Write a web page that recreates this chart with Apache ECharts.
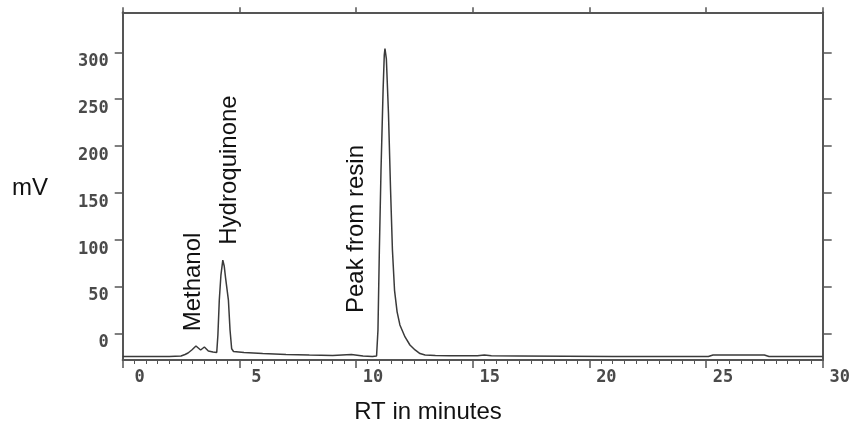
<!DOCTYPE html>
<html>
<head>
<meta charset="utf-8">
<script src="https://cdn.jsdelivr.net/npm/echarts@6/dist/echarts.min.js"></script>
<style>html,body{margin:0;padding:0;background:#fff}#c{width:853px;height:430px}</style>
</head>
<body>
<div id="c"></div>
<script>
var timeMin = [0, 1, 2, 2.5, 2.67, 2.80, 2.96, 3.14, 3.34, 3.50, 3.67, 3.87, 4.03, 4.08, 4.14, 4.21, 4.29, 4.35, 4.41, 4.53, 4.60, 4.67, 4.75, 5.2, 6, 7, 8, 9, 9.8, 10.3, 10.7, 10.88, 10.94, 11.0, 11.07, 11.16, 11.21, 11.24, 11.30, 11.39, 11.48, 11.56, 11.65, 11.76, 11.88, 12.1, 12.31, 12.53, 12.74, 12.96, 13.4, 14, 15.2, 15.5, 15.8, 17, 19, 21, 23, 25.1, 25.3, 27.5, 27.7, 30];
var signalMv = [-24.7, -24.7, -24.6, -24.1, -22.5, -20.9, -17.7, -13.5, -17.7, -14.5, -18.8, -19.9, -20.4, -1.7, 35.6, 62.3, 78.3, 72, 59, 35.6, 3.6, -16.4, -19.3, -20.4, -21.5, -22.5, -23.1, -23.6, -22.5, -24.1, -24.7, -24.1, 3.6, 89, 174, 260, 297, 304, 293, 235, 153, 89, 46, 23, 9, -3.8, -12.4, -17.7, -21.5, -23.1, -23.6, -23.8, -23.8, -23.1, -23.8, -24.1, -24.4, -24.6, -24.7, -24.7, -23.1, -23.1, -24.7, -24.7];
var yTicks = [0, 50, 100, 150, 200, 250, 300];
var xTicks = [0, 5, 10, 15, 20, 25, 30];
var peakLabels = ['Methanol', 'Hydroquinone', 'Peak from resin'];

var chart = echarts.init(document.getElementById('c'));
var axisCol = '#555';
var labelFont = {fontFamily: 'DejaVu Sans Mono', fontWeight: 'bold', fontSize: 17, color: '#4a4a4a'};
var data = timeMin.map(function (t, i) { return [t, signalMv[i]]; });

chart.setOption({
  backgroundColor: '#fff',
  animation: false,
  grid: {left: 122.7, right: 30.3, top: 12.3, bottom: 70},
  xAxis: [{
    type: 'value', position: 'bottom', min: 0, max: 30, interval: 5,
    axisLine: {show: true, onZero: false, lineStyle: {color: axisCol, width: 2}},
    axisTick: {show: true, length: 8, lineStyle: {color: axisCol, width: 1.5}},
    minorTick: {show: true, splitNumber: 10, length: 4, lineStyle: {color: axisCol, width: 1}},
    splitLine: {show: false}, minorSplitLine: {show: false},
    axisLabel: Object.assign({margin: 9, padding: [0, 0, 0, 34]}, labelFont)
  }, {
    type: 'value', position: 'top', min: 0, max: 30, interval: 5,
    axisLine: {show: true, onZero: false, lineStyle: {color: axisCol, width: 2}},
    axisTick: {show: true, length: 5, lineStyle: {color: axisCol, width: 1.5}},
    splitLine: {show: false},
    axisLabel: {show: false}
  }],
  yAxis: [{
    type: 'value', position: 'left', min: -28.4, max: 342.8,
    axisLine: {show: true, onZero: false, lineStyle: {color: axisCol, width: 2}},
    axisTick: {show: true, length: 8, customValues: yTicks, lineStyle: {color: axisCol, width: 1.5}},
    splitLine: {show: false},
    axisLabel: Object.assign({margin: 14, customValues: yTicks, verticalAlign: 'top', padding: [1, 0, 0, 0]}, labelFont)
  }, {
    type: 'value', position: 'right', min: -28.4, max: 342.8,
    axisLine: {show: true, onZero: false, lineStyle: {color: axisCol, width: 2}},
    axisTick: {show: true, length: 9, customValues: yTicks, lineStyle: {color: axisCol, width: 1.5}},
    splitLine: {show: false},
    axisLabel: {show: false}
  }],
  series: [{
    type: 'line', data: data, xAxisIndex: 0, yAxisIndex: 0,
    showSymbol: false, smooth: false,
    lineStyle: {color: '#3a3a3a', width: 1.5}
  }],
  graphic: [
    {type: 'text', x: 30, y: 188, style: {text: 'mV', font: '24px "Liberation Sans"', fill: '#111', align: 'center', verticalAlign: 'middle'}},
    {type: 'text', x: 428, y: 412, style: {text: 'RT in minutes', font: '24px "Liberation Sans"', fill: '#111', align: 'center', verticalAlign: 'middle'}},
    {type: 'text', x: 193, y: 282, rotation: Math.PI / 2, style: {text: peakLabels[0], font: '24px "Liberation Sans"', fill: '#111', align: 'center', verticalAlign: 'middle'}},
    {type: 'text', x: 229, y: 170, rotation: Math.PI / 2, style: {text: peakLabels[1], font: '24px "Liberation Sans"', fill: '#111', align: 'center', verticalAlign: 'middle'}},
    {type: 'text', x: 356, y: 229, rotation: Math.PI / 2, style: {text: peakLabels[2], font: '24px "Liberation Sans"', fill: '#111', align: 'center', verticalAlign: 'middle'}}
  ]
});
</script>
</body>
</html>
